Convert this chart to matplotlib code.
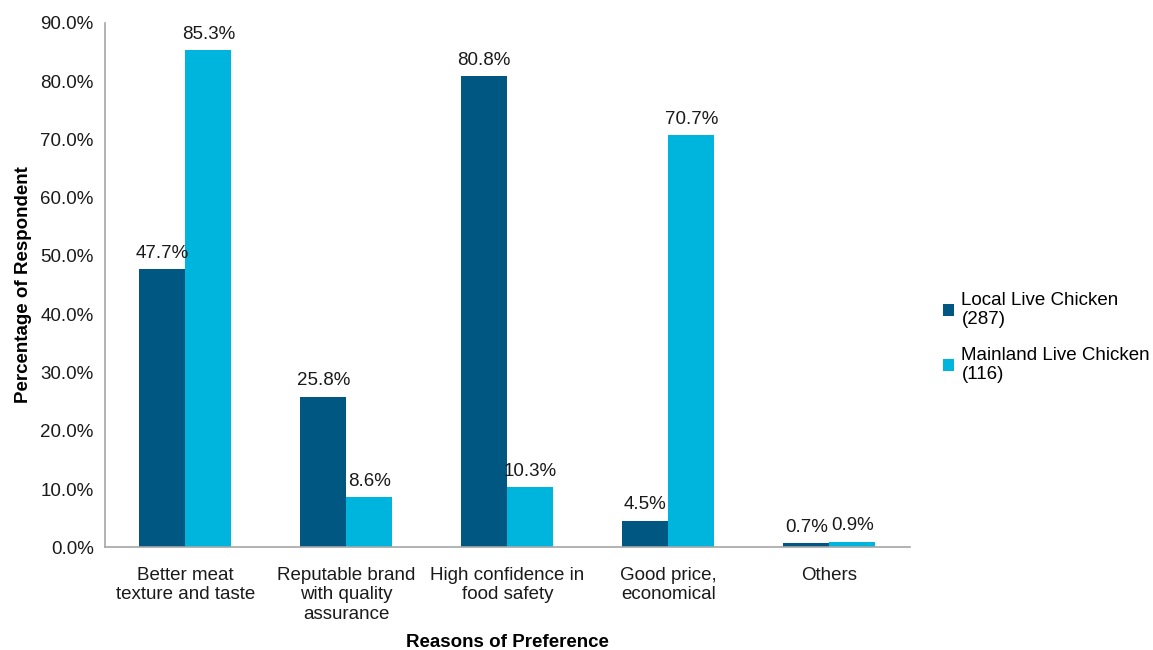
import numpy as np
import matplotlib.pyplot as plt
from matplotlib.ticker import FuncFormatter

plt.rcParams['font.family'] = ['Liberation Sans', 'DejaVu Sans']

categories = ["Better meat\ntexture and taste", "Reputable brand\nwith quality\nassurance",
              "High confidence in\nfood safety", "Good price,\neconomical", "Others"]
local_vals = [47.7, 25.8, 80.8, 4.5, 0.7]
mainland_vals = [85.3, 8.6, 10.3, 70.7, 0.9]
series_names = ["Local Live Chicken\n(287)", "Mainland Live Chicken\n(116)"]

dark = "#005782"
light = "#00B5DD"
fs = 13.5

fig = plt.figure(figsize=(11.53, 6.5), dpi=100)
ax = fig.add_axes([0.091, 0.158, 0.698, 0.807])

x = np.arange(len(categories))
w = 0.286
b1 = ax.bar(x - w / 2, local_vals, w, color=dark, label=series_names[0])
b2 = ax.bar(x + w / 2, mainland_vals, w, color=light, label=series_names[1])

for bars in (b1, b2):
    for r in bars:
        ax.text(r.get_x() + r.get_width() / 2, r.get_height() + 1.3, f"{r.get_height():.1f}%",
                ha="center", va="bottom", fontsize=fs, color="#1a1a1a")

ax.set_xlim(-0.5, len(categories) - 0.5)
ax.set_ylim(0, 90)
ax.set_yticks(np.arange(0, 91, 10))
ax.yaxis.set_major_formatter(FuncFormatter(lambda v, p: f"{v:.1f}%"))
ax.set_xticks(x)
ax.set_xticklabels(categories, fontsize=fs, linespacing=1.2)
ax.tick_params(axis="y", labelsize=fs, length=0, pad=8, colors="#1a1a1a")
ax.tick_params(axis="x", length=0, pad=14, colors="#1a1a1a")

for s in ["top", "right"]:
    ax.spines[s].set_visible(False)
for s in ["left", "bottom"]:
    ax.spines[s].set_color("#a6a6a6")
    ax.spines[s].set_linewidth(1.2)

ax.set_ylabel("Percentage of Respondent", fontsize=fs, fontweight="bold", labelpad=6)
ax.set_xlabel("Reasons of Preference", fontsize=fs, fontweight="bold", labelpad=8)

ax.legend(loc="center left", bbox_to_anchor=(1.02, 0.40), frameon=False, fontsize=fs,
          handlelength=0.6, handleheight=0.6, handletextpad=0.4, labelspacing=1.0)

fig.savefig("out.png", dpi=100)
